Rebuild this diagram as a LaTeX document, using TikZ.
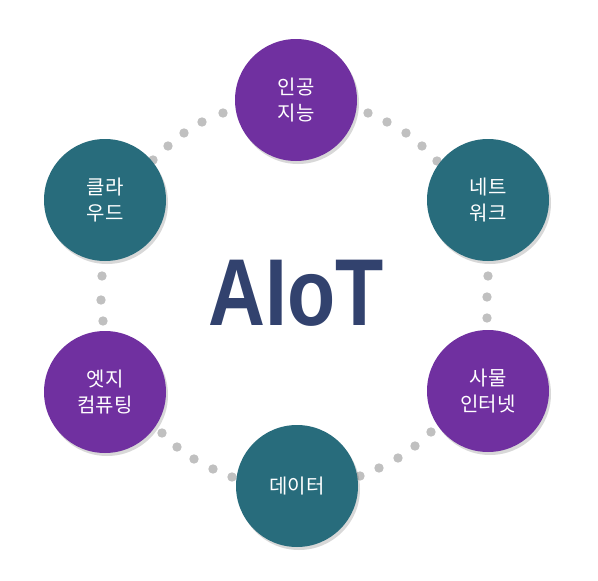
\documentclass[tikz,border=0pt]{standalone}
\usepackage{fontspec}
\usepackage{xcolor}
\usetikzlibrary{shadows}
\newfontfamily\krfont{Noto Sans CJK KR}
\newfontfamily\logofont{Liberation Sans}
\definecolor{aipurple}{RGB}{112,48,160}
\definecolor{aiteal}{RGB}{40,108,124}
\definecolor{ainavy}{RGB}{50,66,110}
\definecolor{dotgray}{RGB}{192,192,192}

\begin{document}
\begin{tikzpicture}[x=1pt,y=-1pt,
  topic/.style={circle,minimum size=122pt,inner sep=0pt,text=white,align=center,
    font=\krfont\fontsize{20}{26}\selectfont,
    drop shadow={shadow xshift=2pt,shadow yshift=-3pt,opacity=0.25,fill=black!60}},
  violet topic/.style={topic,fill=aipurple},
  teal topic/.style={topic,fill=aiteal},
  dot/.style={fill=dotgray},
  logo/.style={font=\logofont\bfseries\fontsize{95}{95}\selectfont,anchor=base,inner sep=0pt}]
\useasboundingbox (0,0) rectangle (598,581);
\fill[white] (0,0) rectangle (598,581);
% dots, upper left
\fill[dot] (223,113) circle (4.7);
\fill[dot] (202,122) circle (4.7);
\fill[dot] (184,133) circle (4.7);
\fill[dot] (168,146) circle (4.7);
\fill[dot] (153,160) circle (4.7);
% dots, upper right
\fill[dot] (368,113) circle (4.7);
\fill[dot] (387,122) circle (4.7);
\fill[dot] (406,133) circle (4.7);
\fill[dot] (422,146) circle (4.7);
\fill[dot] (437,161) circle (4.7);
% dots, right
\fill[dot] (488,276) circle (4.7);
\fill[dot] (487,297) circle (4.7);
\fill[dot] (487,318) circle (4.7);
% dots, lower right
\fill[dot] (431,432) circle (4.7);
\fill[dot] (415,446) circle (4.7);
\fill[dot] (398,458) circle (4.7);
\fill[dot] (379,468) circle (4.7);
\fill[dot] (360,476) circle (4.7);
% dots, lower left
\fill[dot] (162,433) circle (4.7);
\fill[dot] (177,447) circle (4.7);
\fill[dot] (194,459) circle (4.7);
\fill[dot] (213,469) circle (4.7);
\fill[dot] (232,477) circle (4.7);
% dots, left
\fill[dot] (102,276) circle (4.7);
\fill[dot] (101,300) circle (4.7);
\fill[dot] (103,321) circle (4.7);
% circles
\node[violet topic] (ai) at (296,100) {인공\\지능};
\node[teal topic] (network) at (488,200) {네트\\워크};
\node[violet topic] (iot) at (488,391) {사물\\인터넷};
\node[teal topic] (data) at (297,486) {데이터};
\node[violet topic] (edge) at (105,392) {엣지\\컴퓨팅};
\node[teal topic] (cloud) at (105,200) {클라\\우드};
% title
\node[logo,text=ainavy] (aiot) at (296.5,325) {\scalebox{0.83}[1]{AIoT}};
\end{tikzpicture}
\end{document}
